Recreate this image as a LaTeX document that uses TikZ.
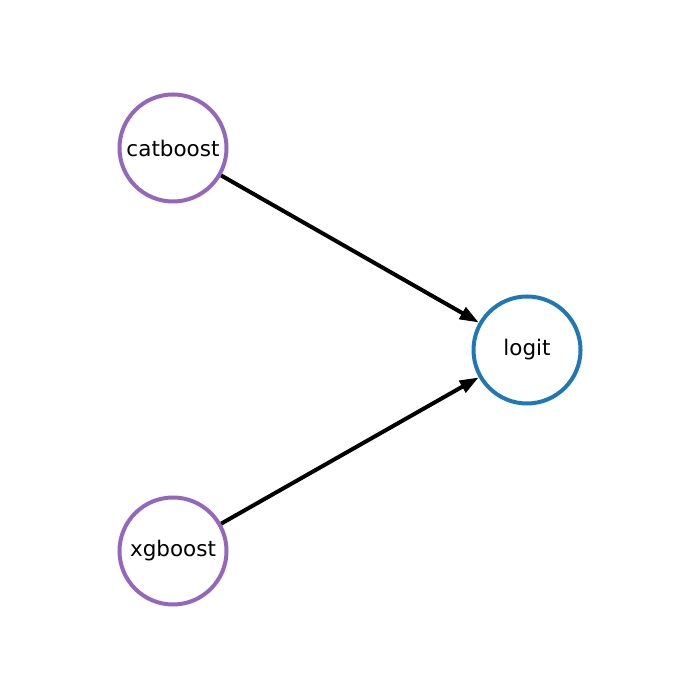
\documentclass[tikz,border=0pt]{standalone}
\usepackage{fontspec}
\setmainfont{DejaVu Sans}
\usetikzlibrary{positioning}
\usetikzlibrary{arrows.meta}
\definecolor{mplpurple}{HTML}{9467BD}
\definecolor{mplblue}{HTML}{1F77B4}

\begin{document}
\begin{tikzpicture}[
    x=1pt, y=1pt,
    font=\fontsize{21.5}{25}\selectfont,
    basenode/.style={circle, draw=mplpurple, fill=white, line width=4pt, minimum size=107pt, inner sep=0pt},
    outnode/.style={circle, draw=mplblue, fill=white, line width=4pt, minimum size=107pt, inner sep=0pt},
    txt/.style={fill=white, inner sep=1.5pt},
    edge/.style={line width=4pt, -{Triangle[length=19pt, width=13pt]}},
]
    \useasboundingbox (0,0) rectangle (700,700);
    %node
    \node[basenode] (catboost) at (173,552) {};
    \node[basenode, on grid] (xgboost) [below=403pt of catboost] {};
    \node[outnode, on grid] (logit) [below right=202pt and 354pt of catboost] {};
    \node[txt] (catboostlabel) at (catboost) {catboost};
    \node[txt] (xgboostlabel) at (xgboost) {xgboost};
    \node[txt] (logitlabel) at (logit) {logit};

    %lines
    \draw[edge] (catboost) -- (logit);
    \draw[edge] (xgboost) -- (logit);
\end{tikzpicture}
\end{document}
